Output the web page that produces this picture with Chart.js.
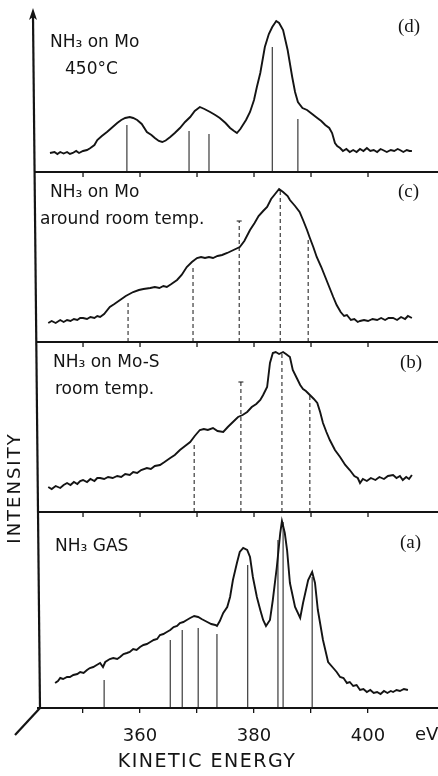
<!DOCTYPE html>
<html><head><meta charset="utf-8">
<script src="https://cdn.jsdelivr.net/npm/chart.js@4.4.1/dist/chart.umd.min.js"></script>
<style>html,body{margin:0;padding:0;background:#fff;}canvas{display:block;}</style>
</head><body>
<canvas id="c" width="438" height="776"></canvas>
<script>
// ---- x axis ticks (kinetic energy, eV)
const xTicks = [350, 360, 370, 380, 390, 400];
const xTickLabels = [360, 380, 400];

// ---- (d) NH3 on Mo 450°C
const energyD = [344.2,345.0,345.5,346.0,346.6,347.2,347.7,348.2,348.8,349.3,350.0,350.7,351.3,352.0,352.5,353.3,354.2,355.0,356.0,356.7,357.4,358.2,358.8,359.5,360.3,361.2,362.0,362.6,363.3,363.9,364.5,365.3,366.1,367.0,367.9,368.8,369.6,370.5,371.3,372.3,373.2,374.0,375.0,375.8,376.5,377.0,377.6,378.6,379.3,380.0,380.5,381.1,381.9,382.6,383.2,383.9,384.4,385.1,385.9,386.7,387.2,387.7,388.5,389.3,390.2,391.1,391.8,392.5,393.2,393.7,394.2,394.6,395.1,395.6,396.2,396.8,397.4,398.0,398.6,399.2,399.8,400.4,401.0,401.6,402.2,402.6,403.3,404.0,404.6,405.2,405.6,406.2,406.8,407.3,407.7];
const intensityD = [19,20,18,20,18.5,20,18,19,21,19,21,22,24,27,32,36,40,44,49,52,54,55,54,52,48,40,37,34,31,30,31.5,35,39,44,50,55,61,65,63,60,57,54,49,44,41,39,43,52,60,72,85,99,125,138,145,151,149,142,122,95,80,70,64,62,58,54,51,47,44,39,29,26,24,21,23,20,22,20,23,21,24,21,22,20,23,22,20,22,21,23,22,20,22,21,21];
const stickD_E = [357.7,368.6,372.1,383.2,387.7];
const stickD_H = [47,41,38,125,53];

// ---- (c) NH3 on Mo around room temp.
const energyC = [343.9,344.5,345.2,346.0,346.6,347.2,347.8,348.4,349.0,349.5,350.0,350.7,351.3,352.0,352.5,353.0,353.7,354.7,355.5,356.5,357.5,358.8,359.8,360.6,361.8,362.6,363.4,364.1,364.7,365.5,366.5,367.3,368.2,369.1,370.0,370.7,371.4,372.1,372.8,373.6,374.4,375.3,376.4,377.5,378.3,379.3,380.1,380.8,381.6,382.3,383.0,383.7,384.4,385.1,385.9,386.3,387.2,388.0,388.6,389.3,389.8,390.4,391.0,391.8,392.5,393.2,393.9,394.5,395.2,395.8,396.3,397.0,397.6,398.2,398.6,399.3,400.0,400.8,401.6,402.3,403.0,403.6,404.4,405.1,405.8,406.5,407.0,407.7];
const intensityC = [19,21,19,22,20,22,21,23,22,24,24,23,25,24,26,25,28,35,38,42,46,50,52,53,54,55,54,56,55,58,62,67,75,80,84,85,84,85,84,86,87,89,92,95,101,112,119,126,131,135,143,148,153,150,146,142,136,130,122,112,104,95,85,75,65,55,45,37,30,26,27,22,23,20,21,22,21,23,22,24,22,24,24,22,25,23,26,24];
const stickC_E = [357.9,369.3,377.4,384.6,389.5];
const stickC_H = [40,77,121,152,105];
const capC_E = [377.4];
const capC_H = [121];

// ---- (b) NH3 on Mo-S room temp.
const energyB = [343.9,344.5,345.2,346.0,346.6,347.2,347.8,348.4,349.0,349.5,350.0,350.7,351.3,352.0,352.5,353.0,353.7,354.4,355.2,356.0,356.7,357.4,358.2,358.8,359.5,360.2,361.2,361.9,362.6,363.5,364.3,365.3,366.1,367.0,367.9,368.8,369.6,370.5,371.2,371.9,372.8,373.6,374.6,375.4,376.3,377.2,378.0,378.8,379.6,380.4,381.1,381.6,382.3,382.8,383.3,383.8,384.4,385.1,385.6,386.3,386.8,387.5,388.1,388.6,389.1,389.8,390.5,391.1,391.6,392.1,392.7,393.3,394.2,395.1,396.0,396.8,397.6,398.2,398.6,399.1,399.8,400.5,401.3,402.0,402.8,403.5,404.4,405.0,405.6,406.1,406.7,407.2,407.7];
const intensityB = [25,23,26,24,27,29,27,30,28,31,32,30,33,31,34,34,33,35,34,36,35,38,37,40,39,42,44,43,46,47,50,54,57,62,66,70,76,82,83,82,84,81,80,85,90,95,97,100,105,108,112,117,125,149,159,160,158,160,158,155,142,134,127,123,121,117,113,109,100,89,80,72,62,55,47,42,36,34,29,33,31,34,32,35,33,36,37,34,36,32,35,33,37];
const stickB_E = [369.5,377.7,384.9,389.8];
const stickB_H = [69,130,159,119];
const capB_E = [377.7];
const capB_H = [130];

// ---- (a) NH3 gas
const energyA = [345.1,345.6,346.0,346.5,347.2,347.7,348.3,349.0,349.5,350.1,350.7,351.2,351.8,352.4,353.0,353.5,353.9,354.7,355.3,356.0,356.5,357.1,357.7,358.2,358.8,359.4,360.0,360.6,361.2,361.8,362.4,363.0,363.5,364.1,364.7,365.3,365.9,366.5,367.0,367.6,368.2,368.8,369.5,370.2,370.8,371.8,372.5,373.2,373.5,374.0,374.6,375.3,375.8,376.3,377.0,377.5,378.1,378.8,379.3,379.8,380.5,381.1,381.6,382.1,382.8,383.3,384.0,384.6,384.9,385.4,385.8,386.3,387.2,388.1,388.6,389.5,390.2,390.7,391.2,392.1,393.0,393.9,394.5,395.1,395.7,396.3,396.8,397.4,398.0,398.6,399.2,399.8,400.4,401.0,401.6,402.2,402.8,403.4,404.0,404.4,405.0,405.6,406.3,407.0];
const intensityA = [25,27,30,29,31,31,33,34,36,35,38,40,41,43,45,41,46,49,50,49,51,54,55,56,59,58,61,63,64,66,68,69,73,74,76,78,81,82,85,86,88,90,92,91,89,86,84,83,82,87,95,101,111,128,145,156,160,158,151,131,111,98,88,82,88,108,141,175,187,175,158,125,101,90,105,128,136,125,98,68,46,40,36,31,30,25,26,22,23,18,19,16,18,15,16,14,17,15,17,16,18,17,19,18];
const stickA_E = [353.7,365.3,367.4,370.2,373.5,378.9,384.2,385.1,390.2];
const stickA_H = [28,68,78,80,74,143,168,186,131];

const ink = '#141414';
const SANS = '"DejaVu Sans", sans-serif';
const SERIF = '"Liberation Serif", serif';

function spectrum(E, I, axis) {
  return { data: E.map((x, i) => ({ x, y: I[i] })), yAxisID: axis,
    borderColor: ink, borderWidth: 1.9, pointRadius: 0, tension: 0, fill: false };
}
function sticks(E, H, axis, dashed) {
  const pts = [];
  E.forEach((x, i) => { pts.push({ x, y: 0 }, { x, y: H[i] }, { x, y: null }); });
  return { data: pts, yAxisID: axis, borderColor: ink, borderWidth: 1,
    borderDash: dashed ? [4, 3] : [], pointRadius: 0, spanGaps: false, fill: false };
}
function caps(E, H, axis) {
  return { data: E.map((x, i) => ({ x, y: H[i] })), yAxisID: axis, showLine: false,
    pointStyle: 'line', pointRadius: 2.5, pointBorderWidth: 1, borderColor: ink, pointBorderColor: ink };
}

const decor = {
  id: 'decor',
  afterDraw(chart) {
    const { ctx, chartArea: ca, scales: s } = chart;
    const X = s.x;
    ctx.save();
    ctx.strokeStyle = ink; ctx.fillStyle = ink;
    const xb = ca.left + 2, xt = ca.left - 5;
    const axisXAt = y => xb + (xt - xb) * (ca.bottom - y) / (ca.bottom - ca.top);
    ctx.lineWidth = 2.2;
    ctx.beginPath(); ctx.moveTo(xb, ca.bottom + 1); ctx.lineTo(xt, ca.top + 8); ctx.stroke();
    ctx.beginPath(); ctx.moveTo(xt, ca.top); ctx.lineTo(xt - 4, ca.top + 12); ctx.lineTo(xt, ca.top + 9);
    ctx.lineTo(xt + 4, ca.top + 12); ctx.closePath(); ctx.fill();
    ctx.beginPath(); ctx.moveTo(xb, ca.bottom); ctx.lineTo(xb - 25, ca.bottom + 27); ctx.stroke();
    ['yd', 'yc', 'yb'].forEach(id => {
      const y = s[id].bottom;
      ctx.lineWidth = 2;
      ctx.beginPath(); ctx.moveTo(axisXAt(y), y); ctx.lineTo(ca.right, y); ctx.stroke();
      ctx.lineWidth = 1.3;
      xTicks.forEach(v => {
        const px = X.getPixelForValue(v);
        ctx.beginPath(); ctx.moveTo(px, y); ctx.lineTo(px, y + 5); ctx.stroke();
      });
    });
    function txt(str, x, y, font, align, spacing) {
      ctx.font = font; ctx.textAlign = align || 'left'; ctx.textBaseline = 'middle';
      ctx.letterSpacing = spacing || '0px'; ctx.fillText(str, x, y);
    }
    const f = '17px ' + SANS, fs = '19px ' + SERIF;
    txt('NH₃ on Mo', 50, s.yd.top + 35, f); txt('450°C', 65, s.yd.top + 62, f); txt('(d)', 398, s.yd.top + 19, fs);
    txt('NH₃ on Mo', 50, s.yc.top + 21, f); txt('around room temp.', 40, s.yc.top + 48, f); txt('(c)', 398, s.yc.top + 20, fs);
    txt('NH₃ on Mo-S', 53, s.yb.top + 21, f); txt('room temp.', 55, s.yb.top + 48, f); txt('(b)', 400, s.yb.top + 21, fs);
    txt('NH₃ GAS', 55, s.ya.top + 35, f); txt('(a)', 400, s.ya.top + 31, fs);
    txt('eV', 415, ca.bottom + 27, '18px ' + SANS);
    txt('KINETIC ENERGY', 207, ca.bottom + 54, '19px ' + SANS, 'center', '1.5px');
    ctx.save(); ctx.translate(15, 488); ctx.rotate(-Math.PI / 2);
    txt('INTENSITY', 0, 0, '18px ' + SANS, 'center', '2px'); ctx.restore();
    ctx.restore();
  }
};

const yAxis = (weight, max) => ({
  type: 'linear', position: 'left', stack: 'panels', stackWeight: weight, min: 0, max,
  ticks: { display: false }, grid: { display: false }, border: { display: false },
  afterFit: sc => { sc.width = 0; }
});

new Chart(document.getElementById('c'), {
  type: 'line',
  data: { datasets: [
    spectrum(energyA, intensityA, 'ya'), sticks(stickA_E, stickA_H, 'ya', false),
    spectrum(energyB, intensityB, 'yb'), sticks(stickB_E, stickB_H, 'yb', true), caps(capB_E, capB_H, 'yb'),
    spectrum(energyC, intensityC, 'yc'), sticks(stickC_E, stickC_H, 'yc', true), caps(capC_E, capC_H, 'yc'),
    spectrum(energyD, intensityD, 'yd'), sticks(stickD_E, stickD_H, 'yd', false)
  ] },
  options: {
    responsive: false, animation: false, devicePixelRatio: 1, events: [],
    layout: { autoPadding: false, padding: { top: 8, left: 38, right: 0, bottom: 0 } },
    plugins: { legend: { display: false }, tooltip: { enabled: false } },
    scales: {
      x: {
        type: 'linear', min: 342.1, max: 412.28,
        afterBuildTicks: sc => { sc.ticks = xTicks.map(v => ({ value: v })); },
        afterFit: sc => { sc.height = 68; sc.paddingLeft = 0; sc.paddingRight = 0; },
        border: { display: true, color: ink, width: 2 },
        grid: { display: true, drawOnChartArea: false, drawTicks: true, tickLength: 5, color: ink, lineWidth: 1.3 },
        ticks: { autoSkip: false, maxRotation: 0, padding: 13, color: ink, font: { family: SANS, size: 18 },
          callback: v => xTickLabels.includes(v) ? String(v) : '' }
      },
      ya: yAxis(196, 196),
      yb: yAxis(170, 170),
      yc: yAxis(170, 170),
      yd: yAxis(164, 164)
    }
  },
  plugins: [decor]
});
</script>
</body></html>
